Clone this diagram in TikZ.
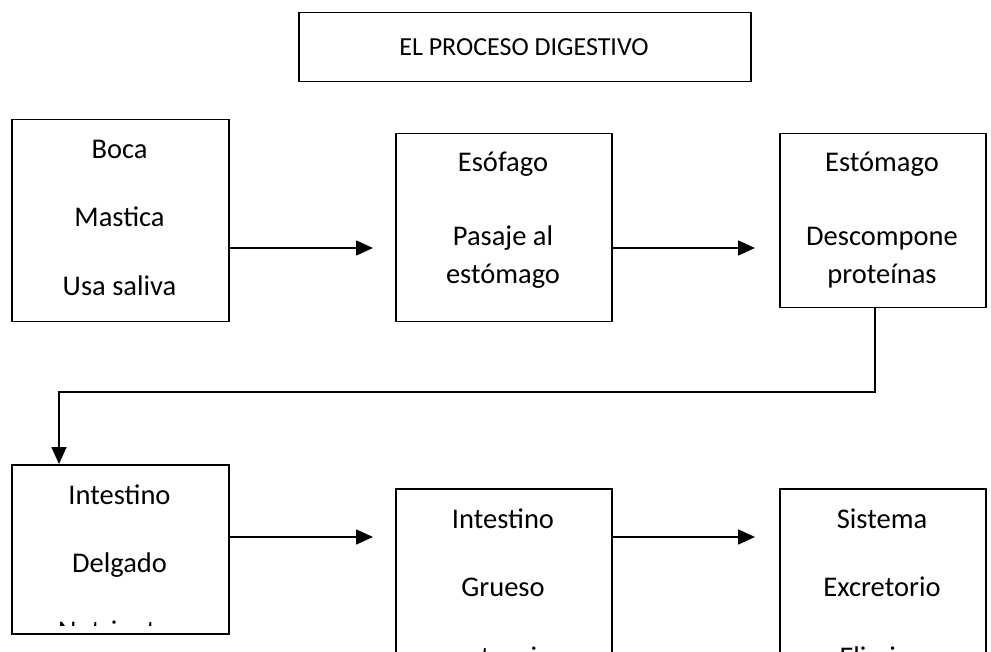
\documentclass[tikz,border=0pt]{standalone}
\usepackage{fontspec}
\setmainfont{Carlito}
\usepackage{tikz}
\usetikzlibrary{arrows.meta,positioning}
\definecolor{inkc}{HTML}{000000}
\newcommand{\bodyfont}{\fontsize{28.5}{34}\selectfont}
\newcommand{\headfont}{\fontsize{26}{31}\selectfont}
\tikzset{
  ar/.style={-{Triangle[length=17pt,width=15pt]},line width=1.6pt,inkc},
  box/.style={draw=inkc,line width=1.5pt,anchor=north west,inner sep=0pt},
  lbl/.style={anchor=base,inner sep=0pt,font=\bodyfont,text=inkc}
}
\begin{document}
\begin{tikzpicture}[x=1pt,y=-1pt]
\clip (0,0) rectangle (991,652);
\fill[white] (0,0) rectangle (991,652);
% titulo
\node[box,minimum width=452pt,minimum height=69pt] (titulo) at (298,12) {};
\node[lbl,font=\headfont] (ttit) at (524,56) {EL PROCESO DIGESTIVO};
% fila de arriba
\node[box,minimum width=217pt,minimum height=202pt] (boca) at (11,119) {};
\node[box,minimum width=216pt,minimum height=188pt] (esof) at (395,133) {};
\node[box,minimum width=206pt,minimum height=174pt] (estom) at (779,133) {};
\node[lbl] (b1) at (119.5,159) {Boca};
\node[lbl] (b2) at (119.5,227) {Mastica};
\node[lbl] (b3) at (119.5,296) {Usa saliva};
\node[lbl] (e1) at (503,172) {Esófago};
\node[lbl] (e2) at (503,246) {Pasaje al};
\node[lbl] (e3) at (503,284) {estómago};
\node[lbl] (s1) at (882,172) {Estómago};
\node[lbl] (s2) at (882,246) {Descompone};
\node[lbl] (s3) at (882,284) {proteínas};
% fila de abajo
\node[box,minimum width=217pt,minimum height=169pt] (idelg) at (11,464) {};
\node[box,minimum width=216pt,minimum height=220pt] (igrue) at (395,488) {};
\node[box,minimum width=206pt,minimum height=220pt] (sexcr) at (779,488) {};
\node[lbl] (d1) at (119.5,504) {Intestino};
\node[lbl] (d2) at (119.5,572) {Delgado};
\begin{scope}
\clip (idelg.north west) rectangle ([yshift=9pt]idelg.south east);
\node[lbl] (d3) at (119.5,640) {Nutrientes};
\end{scope}
\node[lbl] (g1) at (503,528) {Intestino};
\node[lbl] (g2) at (503,596) {Grueso};
\node[lbl] (g3) at (503,666) {sustancias};
\node[lbl] (x1) at (882,528) {Sistema};
\node[lbl] (x2) at (882,596) {Excretorio};
\node[lbl] (x3) at (882,666) {Elimina};
% flechas
\coordinate (p1) at (373,248);
\coordinate (p2) at (755,248);
\coordinate (p3) at (373,537);
\coordinate (p4) at (755,537);
\coordinate (q1) at (875,392);
\coordinate (q2) at (59,392);
\draw[ar] (boca.east |- p1) -- (p1);
\draw[ar] (esof.east |- p2) -- (p2);
\draw[ar] (estom.south -| q1) -- (q1) -- (q2) -- (idelg.north -| q2);
\draw[ar] (idelg.east |- p3) -- (p3);
\draw[ar] (igrue.east |- p4) -- (p4);
\end{tikzpicture}
\end{document}
